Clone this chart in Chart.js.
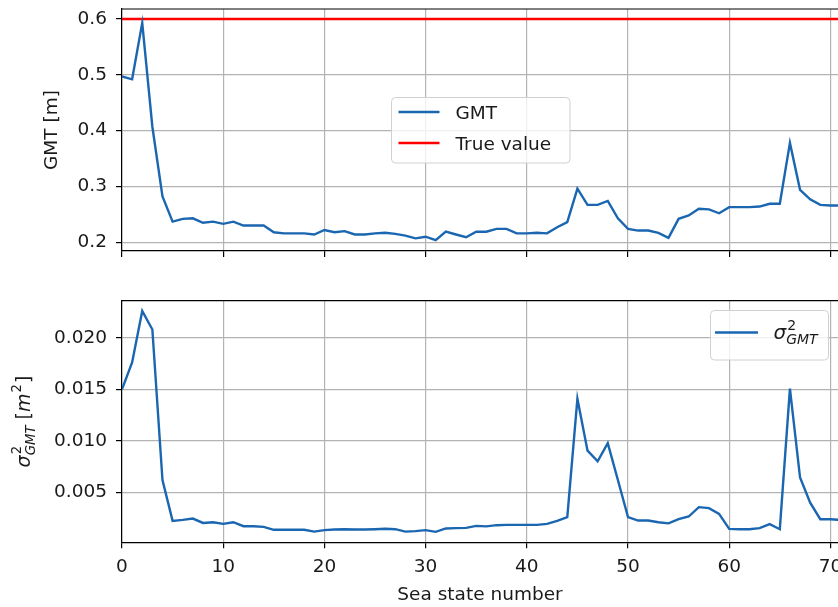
<!DOCTYPE html>
<html>
<head>
<meta charset="utf-8">
<script src="https://cdn.jsdelivr.net/npm/chart.js@4.4.1/dist/chart.umd.min.js"></script>
<style>
  html, body { margin: 0; padding: 0; background: #fff; }
  #wrap { position: relative; width: 838px; height: 607px; overflow: hidden; }
  .panel { position: absolute; left: 0; width: 838px; }
  #topPanel { top: 0; height: 280px; }
  #botPanel { top: 280px; height: 327px; }
</style>
</head>
<body>
<div id="wrap">
  <div class="panel" id="topPanel"><canvas id="gmtChart"></canvas></div>
  <div class="panel" id="botPanel"><canvas id="varChart"></canvas></div>
</div>
<script>
// ================================
// Data
// ================================
const seaStates = [0, 1, 2, 3, 4, 5, 6, 7, 8, 9, 10, 11, 12, 13, 14, 15, 16, 17, 18, 19,
  20, 21, 22, 23, 24, 25, 26, 27, 28, 29, 30, 31, 32, 33, 34, 35, 36, 37, 38, 39,
  40, 41, 42, 43, 44, 45, 46, 47, 48, 49, 50, 51, 52, 53, 54, 55, 56, 57, 58, 59,
  60, 61, 62, 63, 64, 65, 66, 67, 68, 69, 70, 71];

const gmt = [0.497, 0.492, 0.593, 0.407, 0.282, 0.237, 0.242, 0.243, 0.235, 0.237,
  0.233, 0.237, 0.230, 0.230, 0.230, 0.218, 0.216, 0.216, 0.216, 0.214,
  0.222, 0.218, 0.220, 0.214, 0.214, 0.216, 0.217, 0.215, 0.212, 0.207,
  0.210, 0.204, 0.219, 0.214, 0.209, 0.219, 0.219, 0.224, 0.224, 0.216,
  0.216, 0.217, 0.216, 0.227, 0.236, 0.296, 0.267, 0.267, 0.274, 0.243,
  0.224, 0.221, 0.221, 0.217, 0.208, 0.242, 0.248, 0.260, 0.259, 0.252,
  0.263, 0.263, 0.263, 0.264, 0.269, 0.269, 0.378, 0.294, 0.277, 0.267,
  0.266, 0.266];

const gmtVar = [0.0150, 0.0176, 0.0226, 0.0208, 0.0062, 0.00224, 0.00233, 0.00246, 0.00204, 0.00211,
  0.00195, 0.00211, 0.00172, 0.00172, 0.00166, 0.00137, 0.00137, 0.00137, 0.00137, 0.00120,
  0.00134, 0.00140, 0.00143, 0.00140, 0.00140, 0.00143, 0.00147, 0.00143, 0.00120, 0.00124,
  0.00134, 0.00117, 0.00150, 0.00153, 0.00156, 0.00175, 0.00170, 0.00182, 0.00185, 0.00185,
  0.00185, 0.00185, 0.00195, 0.00224, 0.00260, 0.01409, 0.00905, 0.00802, 0.00977, 0.0062,
  0.0026, 0.00227, 0.00227, 0.00211, 0.00200, 0.00240, 0.00266, 0.00357, 0.00347, 0.00292,
  0.00146, 0.00143, 0.00143, 0.00153, 0.00192, 0.00143, 0.01506, 0.00644, 0.00400, 0.00240,
  0.00240, 0.00233];

const trueGMT = 0.6;

const xTicks = [0, 10, 20, 30, 40, 50, 60, 70];
const gmtTicks = [0.2, 0.3, 0.4, 0.5, 0.6];
const varTicks = [0.005, 0.010, 0.015, 0.020];

// ================================
// Shared style
// ================================
const FONT = 'DejaVu Sans';
const BLUE = '#1a66b1';
const RED = '#ff0000';
const TEXT = '#1a1a1a';

function gridOpts() {
  return { color: '#b3b3b3', lineWidth: 1.2, tickColor: '#000', tickLength: 6, tickWidth: 1.2 };
}

function xScale(showLabels, height) {
  return {
    type: 'linear',
    min: 0,
    max: 70.75,
    afterBuildTicks: s => { s.ticks = xTicks.map(v => ({ value: v })); },
    afterFit: s => {
      s.height = height;
      s.paddingLeft = 0; s.paddingRight = 0;
    },
    grid: gridOpts(),
    border: { color: '#000', width: 1.2 },
    ticks: {
      display: showLabels,
      color: TEXT,
      font: { family: FONT, size: 18.5 },
      padding: 8,
      maxRotation: 0,
      callback: v => String(v)
    },
    title: showLabels
      ? { display: true, text: 'Sea state number', color: TEXT, font: { family: FONT, size: 18.5 }, padding: { top: 0, bottom: 1 } }
      : { display: false }
  };
}

function yScale(min, max, tickValues, digits, title) {
  return {
    min: min,
    max: max,
    afterBuildTicks: s => { s.ticks = tickValues.map(v => ({ value: v })); },
    afterFit: s => {
      s.width = 122;
      s.paddingTop = 0; s.paddingBottom = 0;
    },
    grid: gridOpts(),
    border: { color: '#000', width: 1.2 },
    ticks: {
      color: TEXT,
      font: { family: FONT, size: 18.5 },
      padding: 9,
      callback: v => Number(v).toFixed(digits)
    },
    title: title
  };
}

// ================================
// Text helpers (sigma with super/subscript)
// ================================
function drawSigmaGMT(ctx, x, y, size) {
  const small = size * 0.7;
  ctx.font = `italic ${size}px ${FONT}`;
  ctx.fillText('σ', x, y);
  const w1 = ctx.measureText('σ').width + 1;
  ctx.font = `${small}px ${FONT}`;
  ctx.fillText('2', x + w1, y - size * 0.45);
  const w2 = ctx.measureText('2').width;
  ctx.font = `italic ${small}px ${FONT}`;
  ctx.fillText('GMT', x + w1 - 1, y + size * 0.25);
  const w3 = ctx.measureText('GMT').width;
  return w1 + Math.max(w2, w3 - 1);
}

function measureSigmaGMT(ctx, size) {
  const small = size * 0.7;
  ctx.font = `italic ${size}px ${FONT}`;
  const w1 = ctx.measureText('σ').width + 1;
  ctx.font = `${small}px ${FONT}`;
  const w2 = ctx.measureText('2').width;
  ctx.font = `italic ${small}px ${FONT}`;
  const w3 = ctx.measureText('GMT').width;
  return w1 + Math.max(w2, w3 - 1);
}

// σ²_GMT [m²]
function varAxisTitleWidth(ctx, size) {
  const small = size * 0.7;
  let w = measureSigmaGMT(ctx, size);
  ctx.font = `${size}px ${FONT}`;
  w += ctx.measureText(' [').width + ctx.measureText(']').width;
  ctx.font = `italic ${size}px ${FONT}`;
  w += ctx.measureText('m').width + 1;
  ctx.font = `${small}px ${FONT}`;
  w += ctx.measureText('2').width + 1;
  return w;
}

function drawVarAxisTitle(ctx, x, y, size) {
  const small = size * 0.7;
  let cx = x + drawSigmaGMT(ctx, x, y, size);
  ctx.font = `${size}px ${FONT}`;
  ctx.fillText(' [', cx, y);
  cx += ctx.measureText(' [').width;
  ctx.font = `italic ${size}px ${FONT}`;
  ctx.fillText('m', cx, y);
  cx += ctx.measureText('m').width + 1;
  ctx.font = `${small}px ${FONT}`;
  ctx.fillText('2', cx, y - size * 0.45);
  cx += ctx.measureText('2').width + 1;
  ctx.font = `${size}px ${FONT}`;
  ctx.fillText(']', cx, y);
}

// ================================
// Plugins
// ================================
const topSpine = {
  id: 'topSpine',
  afterDraw(chart) {
    const { ctx, chartArea } = chart;
    ctx.save();
    ctx.strokeStyle = '#000';
    ctx.lineWidth = 1.2;
    ctx.beginPath();
    ctx.moveTo(chartArea.left, chartArea.top);
    ctx.lineTo(chartArea.right + 2, chartArea.top);
    ctx.stroke();
    ctx.restore();
  }
};

const insetLegend = {
  id: 'insetLegend',
  afterDraw(chart, args, opts) {
    if (!opts || !opts.box) return;
    const ctx = chart.ctx;
    const b = opts.box;
    ctx.save();
    ctx.fillStyle = 'rgba(255,255,255,0.8)';
    ctx.strokeStyle = '#d0d0d0';
    ctx.lineWidth = 1;
    ctx.beginPath();
    ctx.roundRect(b.x, b.y, b.w, b.h, 4);
    ctx.fill();
    ctx.stroke();

    chart.data.datasets.forEach((ds, i) => {
      const cy = b.y + opts.firstRow + i * opts.rowGap;
      ctx.strokeStyle = ds.borderColor;
      ctx.lineWidth = ds.borderWidth;
      ctx.beginPath();
      ctx.moveTo(b.x + opts.lineFrom, cy);
      ctx.lineTo(b.x + opts.lineTo, cy);
      ctx.stroke();

      ctx.fillStyle = TEXT;
      ctx.textBaseline = 'alphabetic';
      ctx.textAlign = 'left';
      const tx = b.x + opts.textX;
      const ty = cy + opts.fontSize * 0.36;
      if (ds.label === 'sigma2GMT') {
        drawSigmaGMT(ctx, tx, ty, opts.fontSize + 2);
      } else {
        ctx.font = `${opts.fontSize}px ${FONT}`;
        ctx.fillText(ds.label, tx, ty);
      }
    });
    ctx.restore();
  }
};

const varTitle = {
  id: 'varTitle',
  afterDraw(chart) {
    const { ctx, chartArea } = chart;
    const size = 19;
    ctx.save();
    ctx.fillStyle = TEXT;
    ctx.textBaseline = 'alphabetic';
    ctx.textAlign = 'left';
    const w = varAxisTitleWidth(ctx, size);
    ctx.translate(30, (chartArea.top + chartArea.bottom) / 2);
    ctx.rotate(-Math.PI / 2);
    drawVarAxisTitle(ctx, -w / 2, 0, size);
    ctx.restore();
  }
};

// ================================
// Top chart: GMT
// ================================
new Chart(document.getElementById('gmtChart'), {
  type: 'line',
  data: {
    datasets: [
      {
        label: 'GMT',
        data: gmt.map((v, i) => ({ x: seaStates[i], y: v })),
        borderColor: BLUE,
        borderWidth: 2.4,
        pointRadius: 0,
        tension: 0
      },
      {
        label: 'True value',
        data: [
          { x: seaStates[0], y: trueGMT },
          { x: seaStates[seaStates.length - 1], y: trueGMT }
        ],
        borderColor: RED,
        borderWidth: 2.4,
        pointRadius: 0
      }
    ]
  },
  options: {
    responsive: true,
    maintainAspectRatio: false,
    animation: false,
    layout: { padding: { top: 9, right: 0, left: 0, bottom: 0 } },
    plugins: {
      legend: { display: false },
      tooltip: { enabled: false },
      insetLegend: {
        box: { x: 391.5, y: 97.5, w: 178.5, h: 65.5 },
        firstRow: 14.5, rowGap: 31, lineFrom: 7, lineTo: 48, textX: 64, fontSize: 18.5
      }
    },
    scales: {
      x: xScale(false, 29),
      y: yScale(0.1844, 0.6179, gmtTicks, 1, {
        display: true, text: 'GMT [m]', color: TEXT,
        font: { family: FONT, size: 18.5 }, padding: { top: 41, bottom: 0 }
      })
    }
  },
  plugins: [topSpine, insetLegend]
});

// ================================
// Bottom chart: variance of GMT
// ================================
new Chart(document.getElementById('varChart'), {
  type: 'line',
  data: {
    datasets: [
      {
        label: 'sigma2GMT',
        data: gmtVar.map((v, i) => ({ x: seaStates[i], y: v })),
        borderColor: BLUE,
        borderWidth: 2.4,
        pointRadius: 0,
        tension: 0
      }
    ]
  },
  options: {
    responsive: true,
    maintainAspectRatio: false,
    animation: false,
    layout: { padding: { top: 20.7, right: 0, left: 0, bottom: 0 } },
    plugins: {
      legend: { display: false },
      tooltip: { enabled: false },
      insetLegend: {
        box: { x: 710.5, y: 30.5, w: 118, h: 49.5 },
        firstRow: 22, rowGap: 31, lineFrom: 4.5, lineTo: 47.5, textX: 63, fontSize: 18
      }
    },
    scales: {
      x: xScale(true, 64.7),
      y: yScale(0.00016, 0.02359, varTicks, 3, { display: false })
    }
  },
  plugins: [topSpine, insetLegend, varTitle]
});
</script>
</body>
</html>
